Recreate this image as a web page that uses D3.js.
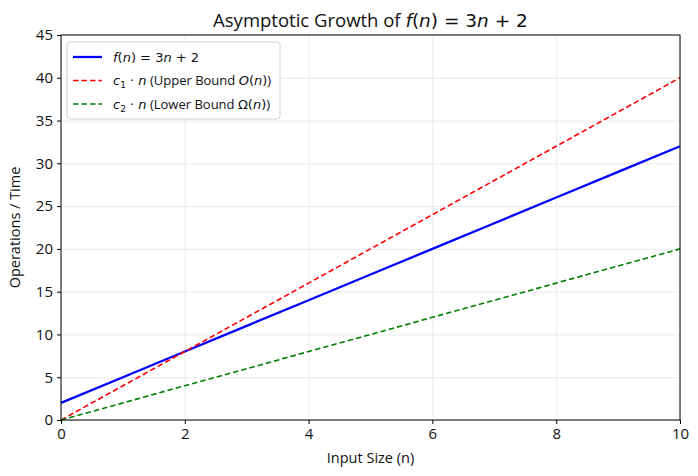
<!DOCTYPE html>
<html>
<head>
<meta charset="UTF-8">
<script src="https://d3js.org/d3.v7.min.js"></script>
<style>
  body { margin: 0; background: #fff; }
  text { font-family: "Open Sans", Roboto, sans-serif; fill: #111; }
  .math { font-family: "DejaVu Sans", sans-serif; }
  .grid line { stroke: #e6e6e6; stroke-width: 0.8; }
  .grid path { display: none; }
  .axis text { font-size: 15px; }
</style>
</head>
<body>
<div id="chart"></div>
<script>
  const nValues = [0, 1, 2, 3, 4, 5, 6, 7, 8, 9, 10];
  const fValues = [2, 5, 8, 11, 14, 17, 20, 23, 26, 29, 32];
  const upperValues = [0, 4, 8, 12, 16, 20, 24, 28, 32, 36, 40];
  const lowerValues = [0, 2, 4, 6, 8, 10, 12, 14, 16, 18, 20];
  const xTicks = [0, 2, 4, 6, 8, 10];
  const yTicks = [0, 5, 10, 15, 20, 25, 30, 35, 40, 45];

  const W = 698, H = 476;
  const margin = { top: 35, right: 18, bottom: 56, left: 61 };
  const width = W - margin.left - margin.right;
  const height = H - margin.top - margin.bottom;

  const svg = d3.select("#chart").append("svg")
    .attr("width", W).attr("height", H);

  const g = svg.append("g").attr("transform", `translate(${margin.left},${margin.top})`);

  const x = d3.scaleLinear().domain([0, 10]).range([0, width]);
  const y = d3.scaleLinear().domain([0, 45]).range([height, 0]);

  // grid
  g.append("g").attr("class", "grid")
    .attr("transform", `translate(0,${height})`)
    .call(d3.axisBottom(x).tickValues(xTicks).tickSize(-height).tickFormat(""));
  g.append("g").attr("class", "grid")
    .call(d3.axisLeft(y).tickValues(yTicks).tickSize(-width).tickFormat(""));

  const series = [
    { vals: fValues, color: "#0000ff", dash: null, w: 2.3 },
    { vals: upperValues, color: "#ff0000", dash: "5.5,3", w: 1.6 },
    { vals: lowerValues, color: "#008000", dash: "5.5,3", w: 1.6 }
  ];

  const line = d3.line().x((d, i) => x(nValues[i])).y(d => y(d));
  series.forEach(s => {
    g.append("path").datum(s.vals)
      .attr("fill", "none")
      .attr("stroke", s.color)
      .attr("stroke-width", s.w)
      .attr("stroke-dasharray", s.dash)
      .attr("d", line);
  });

  // frame
  g.append("rect").attr("width", width).attr("height", height)
    .attr("fill", "none").attr("stroke", "#000").attr("stroke-width", 1);

  const xAxis = g.append("g").attr("class", "axis")
    .attr("transform", `translate(0,${height})`)
    .call(d3.axisBottom(x).tickValues(xTicks).tickSize(4).tickPadding(4));
  xAxis.select(".domain").remove();
  const yAxis = g.append("g").attr("class", "axis")
    .call(d3.axisLeft(y).tickValues(yTicks).tickSize(4).tickPadding(4));
  yAxis.select(".domain").remove();

  // axis labels
  svg.append("text").attr("x", margin.left + width / 2).attr("y", 463)
    .attr("text-anchor", "middle").style("font-size", "14.5px").text("Input Size (n)");
  svg.append("text")
    .attr("transform", `translate(20,${margin.top + height / 2}) rotate(-90)`)
    .attr("text-anchor", "middle").style("font-size", "14.5px").text("Operations / Time");

  // title
  const title = svg.append("text").attr("x", margin.left + width / 2).attr("y", 27)
    .attr("text-anchor", "middle").style("font-size", "18.5px");
  title.append("tspan").text("Asymptotic Growth of ");
  [["f", true], ["(", false], ["n", true], [") = 3", false], ["n", true], [" + 2", false]]
    .forEach(([txt, ital]) => {
      const ts = title.append("tspan").attr("class", "math").text(txt);
      if (ital) ts.style("font-style", "italic");
    });

  // legend
  const leg = g.append("g").attr("transform", "translate(6,7)");
  leg.append("rect").attr("width", 213).attr("height", 77).attr("rx", 3)
    .attr("fill", "#fff").attr("fill-opacity", 0.85)
    .attr("stroke", "#d0d0d0");

  // [text, italic, subscript, mathFont]
  const legendRows = [
    [["f", true, false, true], ["(", false, false, true], ["n", true, false, true], [") = 3", false, false, true], ["n", true, false, true], [" + 2", false, false, true]],
    [["c", true, false, true], ["1", false, true, true], [" · ", false, false, true], ["n", true, false, true], [" (Upper Bound ", false], ["O", true, false, true], ["(", false, false, true], ["n", true, false, true], [")", false, false, true], [")", false]],
    [["c", true, false, true], ["2", false, true, true], [" · ", false, false, true], ["n", true, false, true], [" (Lower Bound ", false], ["Ω(", false, false, true], ["n", true, false, true], [")", false, false, true], [")", false]]
  ];

  legendRows.forEach((row, i) => {
    const cy = 15 + i * 23.5;
    const s = series[i];
    leg.append("line").attr("x1", 6).attr("x2", 35).attr("y1", cy).attr("y2", cy)
      .attr("stroke", s.color).attr("stroke-width", s.w)
      .attr("stroke-dasharray", s.dash);
    const t = leg.append("text").attr("x", 46).attr("y", cy + 4.5).style("font-size", "13px");
    let wasSub = false;
    row.forEach(([txt, ital, sub, math]) => {
      const ts = t.append("tspan").text(txt);
      if (math) ts.attr("class", "math");
      if (ital) ts.style("font-style", "italic");
      if (sub) {
        ts.attr("dy", 3).style("font-size", "9px");
      } else if (wasSub) {
        ts.attr("dy", -3);
      }
      wasSub = !!sub;
    });
  });
</script>
</body>
</html>
